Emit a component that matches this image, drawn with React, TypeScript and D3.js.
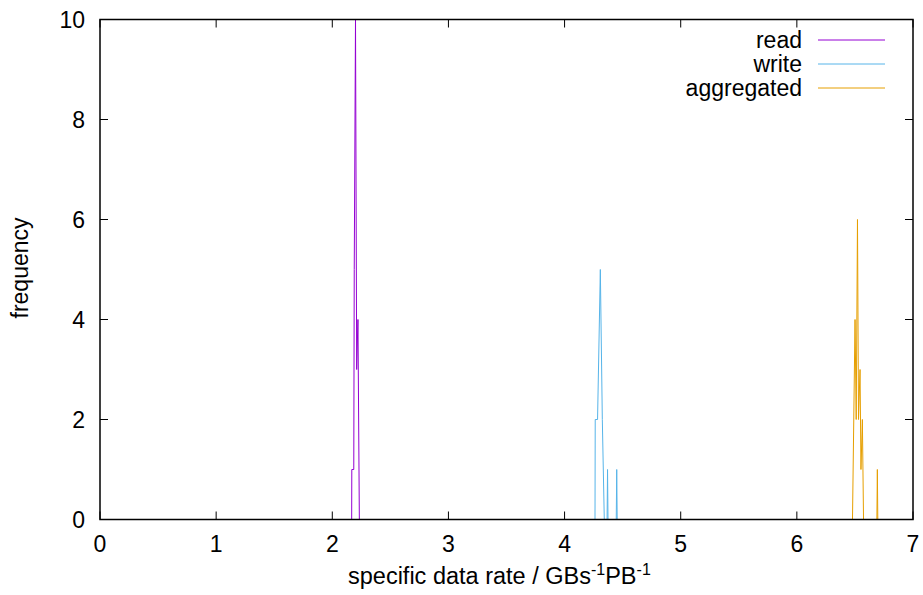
import React from "react";
import * as d3 from "d3";

const readX = [2.16, 2.167, 2.168, 2.185, 2.189, 2.2, 2.21, 2.221, 2.233, 2.24];
const readY = [0, 0, 1, 1, 5, 10, 3, 4, 0, 0];
const writeX = [4.25, 4.262, 4.264, 4.284, 4.308, 4.325, 4.342, 4.366, 4.37, 4.374, 4.445, 4.449, 4.453, 4.46];
const writeY = [0, 0, 2, 2, 5, 2, 0, 0, 1, 0, 0, 1, 0, 0];
const aggX = [6.47, 6.479, 6.501, 6.511, 6.522, 6.531, 6.544, 6.552, 6.564, 6.574, 6.689, 6.693, 6.697, 6.705];
const aggY = [0, 0, 4, 2, 6, 2, 3, 1, 2, 0, 0, 1, 0, 0];

const seriesNames = ["read", "write", "aggregated"];
const seriesColors = ["#9400d3", "#56b4e9", "#e69f00"];
const xTicks = [0, 1, 2, 3, 4, 5, 6, 7];
const yTicks = [0, 2, 4, 6, 8, 10];

export default function App() {
  const W = 923, H = 595;
  const L = 100, R = 913, T = 19.5, B = 519.5;
  const x = d3.scaleLinear().domain([0, 7]).range([L, R]);
  const y = d3.scaleLinear().domain([0, 10]).range([B, T]);
  const line = d3.line<[number, number]>().x((d) => x(d[0])).y((d) => y(d[1]));
  const data = [
    d3.zip(readX, readY) as [number, number][],
    d3.zip(writeX, writeY) as [number, number][],
    d3.zip(aggX, aggY) as [number, number][],
  ];
  const font = "'Liberation Sans', Arial, Helvetica, sans-serif";
  const fs = 23;
  const tick = 8;
  return (
    <svg width={W} height={H} style={{ position: "absolute", left: 0, top: 0, background: "#fff" }} fontFamily={font}>
      <rect x={0} y={0} width={W} height={H} fill="#fff" />
      {data.map((d, i) => (
        <path key={i} d={line(d) || ""} fill="none" stroke={seriesColors[i]} strokeWidth={1} />
      ))}
      {xTicks.map((t) => (
        <g key={"x" + t}>
          <line x1={x(t)} x2={x(t)} y1={B} y2={B - tick} stroke="#000" strokeWidth={1} />
          <line x1={x(t)} x2={x(t)} y1={T} y2={T + tick} stroke="#000" strokeWidth={1} />
          <text x={x(t)} y={552} fontSize={fs} textAnchor="middle" fill="#000">{t}</text>
        </g>
      ))}
      {yTicks.map((t) => (
        <g key={"y" + t}>
          <line x1={L} x2={L + tick} y1={y(t)} y2={y(t)} stroke="#000" strokeWidth={1} />
          <line x1={R} x2={R - tick} y1={y(t)} y2={y(t)} stroke="#000" strokeWidth={1} />
          <text x={85} y={y(t) + 8} fontSize={fs} textAnchor="end" fill="#000">{t}</text>
        </g>
      ))}
      <rect x={L} y={T} width={R - L} height={B - T} fill="none" stroke="#000" strokeWidth={1.5} />
      {seriesNames.map((n, i) => (
        <g key={n}>
          <text x={802} y={48 + i * 24} fontSize={fs} textAnchor="end" fill="#000">{n}</text>
          <line x1={818} x2={885} y1={40 + i * 24} y2={40 + i * 24} stroke={seriesColors[i]} strokeWidth={1} />
        </g>
      ))}
      <text transform={`translate(28,268) rotate(-90)`} fontSize={fs} textAnchor="middle" fill="#000">frequency</text>
      <text x={348} y={584} fontSize={23.5} textAnchor="start" fill="#000">
        specific data rate / GBs<tspan fontSize={16} dy={-9}>-1</tspan><tspan dy={9}>PB</tspan><tspan fontSize={16} dy={-9}>-1</tspan>
      </text>
    </svg>
  );
}
